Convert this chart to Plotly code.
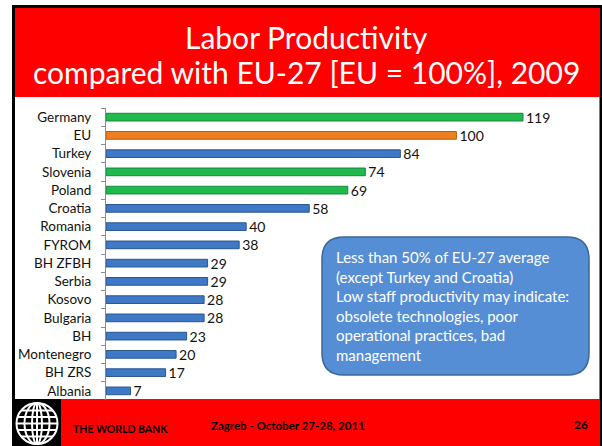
import plotly.graph_objects as go
import math

W, H = 602, 446

categories = ["Germany", "EU", "Turkey", "Slovenia", "Poland", "Croatia", "Romania", "FYROM",
              "BH ZFBH", "Serbia", "Kosovo", "Bulgaria", "BH", "Montenegro", "BH ZRS", "Albania"]
values = [119, 100, 84, 74, 69, 58, 40, 38, 29, 29, 28, 28, 23, 20, 17, 7]
groups = ["green", "orange", "blue", "green", "green", "blue", "blue", "blue",
          "blue", "blue", "blue", "blue", "blue", "blue", "blue", "blue"]

fill = {"green": "#21b84e", "orange": "#ee7f1f", "blue": "#3f79c6"}
edge = {"green": "#14893a", "orange": "#b95e12", "blue": "#2a5590"}

title_lines = ["Labor Productivity", "compared with EU-27 [EU = 100%], 2009"]
note_lines = ["Less than 50% of EU-27 average",
              "(except Turkey and Croatia)",
              "Low staff productivity may indicate:",
              "obsolete technologies, poor",
              "operational practices, bad",
              "management"]
footer_org = "THE WORLD BANK"
footer_event = "Zagreb - October 27-28, 2011"
footer_page = "26"

FONT = "Lato"


def px(x):
    return x / W


def py(y):
    return 1 - y / H


fig = go.Figure()
fig.add_trace(go.Bar(
    y=categories, x=values, orientation="h",
    marker=dict(color=[fill[g] for g in groups],
                line=dict(color=[edge[g] for g in groups], width=1)),
    width=0.42,
    text=values, texttemplate="%{x}", textposition="outside", constraintext="none",
    textfont=dict(family=FONT, size=14, color="#111"),
    cliponaxis=False, showlegend=False, hoverinfo="skip",
))

scale = (523 - 106) / 119.0
xmax = 140
x_left = 106
x_right = x_left + xmax * scale

shapes = []
def rect(x0, y0, x1, y1, color):
    shapes.append(dict(type="rect", xref="paper", yref="paper", x0=px(x0), x1=px(x1),
                       y0=py(y1), y1=py(y0), fillcolor=color, line=dict(width=0), layer="below"))

rect(12, 5, 602, 446, "#000000")
rect(15, 8, 600, 97, "#ff0000")
rect(15, 97, 599.5, 399, "#ffffff")
rect(61, 399, 600, 446, "#ff0000")

# callout rounded box
bx0, by0, bx1, by1, r = 322, 237, 589, 375, 22
path = (f"M {px(bx0 + r)},{py(by0)} L {px(bx1 - r)},{py(by0)} "
        f"Q {px(bx1)},{py(by0)} {px(bx1)},{py(by0 + r)} "
        f"L {px(bx1)},{py(by1 - r)} Q {px(bx1)},{py(by1)} {px(bx1 - r)},{py(by1)} "
        f"L {px(bx0 + r)},{py(by1)} Q {px(bx0)},{py(by1)} {px(bx0)},{py(by1 - r)} "
        f"L {px(bx0)},{py(by0 + r)} Q {px(bx0)},{py(by0)} {px(bx0 + r)},{py(by0)} Z")
shapes.append(dict(type="path", xref="paper", yref="paper", path=path,
                   fillcolor="#558ed5", line=dict(color="#3b6699", width=1.5), layer="above"))

# globe logo
gcx, gcy, gr = 37, 423.5, 20.5
white = dict(color="#ffffff", width=2)
def ellipse(cx, cy, rx, ry):
    shapes.append(dict(type="circle", xref="paper", yref="paper",
                       x0=px(cx - rx), x1=px(cx + rx), y0=py(cy + ry), y1=py(cy - ry),
                       line=white, fillcolor="rgba(0,0,0,0)", layer="above"))
def line(x0, y0, x1, y1):
    shapes.append(dict(type="line", xref="paper", yref="paper",
                       x0=px(x0), x1=px(x1), y0=py(y0), y1=py(y1), line=white, layer="above"))
ellipse(gcx, gcy, gr, gr)
ellipse(gcx, gcy, 12.5, gr)
ellipse(gcx, gcy, 5, gr)
line(gcx, gcy - gr, gcx, gcy + gr)
for d in (-13, -6.5, 0, 6.5, 13):
    half = math.sqrt(gr * gr - d * d)
    line(gcx - half, gcy + d, gcx + half, gcy + d)

annotations = []
annotations.append(dict(text=title_lines[0], x=px(306), y=py(37), xref="paper", yref="paper",
                        showarrow=False, xanchor="center", yanchor="middle",
                        font=dict(family=FONT, size=30, color="white")))
annotations.append(dict(text=title_lines[1], x=px(306), y=py(72), xref="paper", yref="paper",
                        showarrow=False, xanchor="center", yanchor="middle",
                        font=dict(family=FONT, size=30, color="white")))
for i, t in enumerate(note_lines):
    annotations.append(dict(text=t, x=px(334), y=py(257 + i * 19.5), xref="paper", yref="paper",
                            showarrow=False, xanchor="left", yanchor="middle",
                            font=dict(family=FONT, size=15, color="white")))
annotations.append(dict(text=f"<b>{footer_org}</b>", x=px(71), y=py(429), xref="paper", yref="paper",
                        showarrow=False, xanchor="left", yanchor="middle",
                        font=dict(family=FONT, size=10.5, color="black")))
annotations.append(dict(text=f"<b>{footer_event}</b>", x=px(209), y=py(425), xref="paper", yref="paper",
                        showarrow=False, xanchor="left", yanchor="middle",
                        font=dict(family=FONT, size=11.5, color="black")))
annotations.append(dict(text=f"<b>{footer_page}</b>", x=px(590), y=py(424), xref="paper", yref="paper",
                        showarrow=False, xanchor="right", yanchor="middle",
                        font=dict(family=FONT, size=12, color="black")))

fig.update_layout(
    width=W, height=H, margin=dict(l=0, r=0, t=0, b=0),
    paper_bgcolor="white", plot_bgcolor="rgba(0,0,0,0)",
    shapes=shapes, annotations=annotations, bargap=0.5,
    xaxis=dict(domain=[px(x_left), px(x_right)], range=[0, xmax], visible=False, fixedrange=True),
    yaxis=dict(domain=[py(400), py(108)], autorange="reversed", type="category",
               showline=True, linecolor="#8c8c8c", linewidth=1,
               ticks="outside", ticklen=4, tickcolor="#8c8c8c", tickson="boundaries",
               showgrid=False, ticklabelstandoff=11,
               tickfont=dict(family=FONT, size=13.5, color="#111")),
    font=dict(family=FONT),
)

fig.write_html("out.html")
